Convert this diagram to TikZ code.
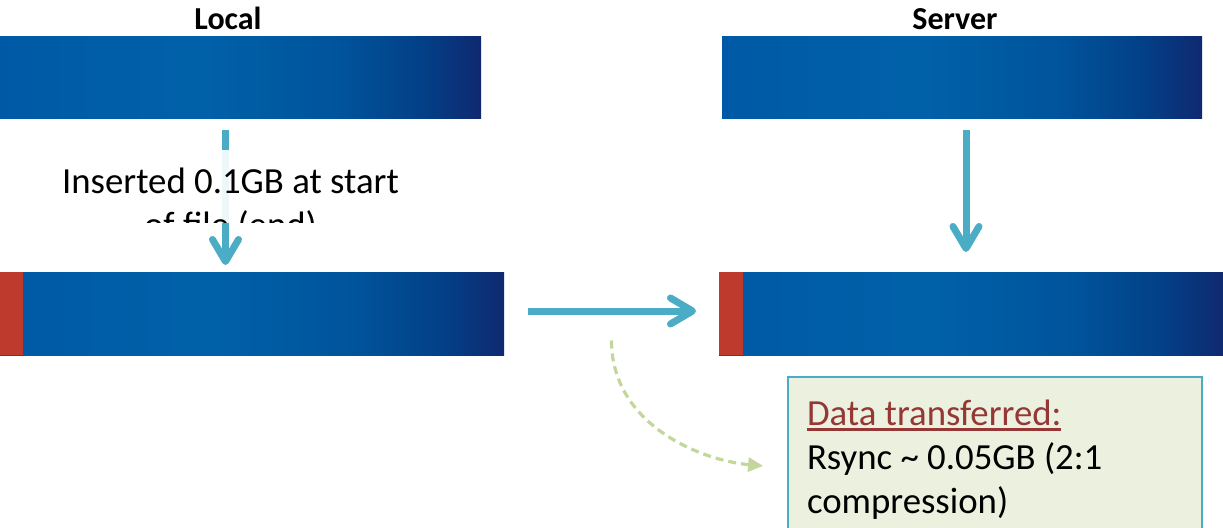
\documentclass[tikz,border=0pt]{standalone}
\usepackage{fontspec}
\setmainfont{Carlito}
\usetikzlibrary{arrows.meta,calc}

\definecolor{flowblue}{RGB}{75,172,198}
\definecolor{newred}{RGB}{190,58,44}
\definecolor{notegreen}{RGB}{235,241,222}
\definecolor{hintgreen}{RGB}{195,214,155}
\definecolor{headred}{RGB}{149,55,53}

% blue file bar, light on the left and dark on the right
\pgfdeclarehorizontalshading{filefade}{100bp}{rgb(0bp)=(0,0.35,0.65); rgb(25bp)=(0,0.35,0.65); rgb(46bp)=(0,0.38,0.66); rgb(60bp)=(0,0.33,0.61); rgb(69bp)=(0.01,0.25,0.53); rgb(75bp)=(0.06,0.16,0.44); rgb(100bp)=(0.06,0.16,0.44)}

% underlined heading of the note
\newsavebox{\headbox}
\newcommand{\notehead}[1]{\textcolor{headred}{\sbox{\headbox}{#1}\rlap{\rule[-2.8pt]{\wd\headbox}{1.5pt}}\usebox{\headbox}}}

\begin{document}
\begin{tikzpicture}[x=0.5pt,y=0.5pt,
    blob/.style={shading=filefade, minimum height=41pt, inner sep=0pt, outer sep=0pt},
    patch/.style={fill=newred, minimum height=41.5pt, inner sep=0pt, outer sep=0pt},
    side/.style={font=\fontsize{16}{19}\selectfont\bfseries},
    flow/.style={draw=flowblue, line width=3.5pt, -{Straight Barb[length=11pt,width=13pt,round]}},
    hint/.style={draw=hintgreen, line width=1.6pt, dash pattern=on 4pt off 2.5pt, -{Triangle[length=7.5pt,width=7pt]}},
    notebox/.style={draw=flowblue, line width=1pt, fill=notegreen, inner xsep=9.5pt, inner ysep=0pt,
      text width=188pt, align=flush left, minimum height=82.5pt, font=\fontsize{18.4}{22}\selectfont}]

    \useasboundingbox (0,0) rectangle (1223,527);
    \clip (0,0) rectangle (1223,527);

    % --------------------------------------------------------- %
    % ------------- sides
    % --------------------------------------------------------- %
    \node[side, anchor=base] (localtitle) at (228,498) {Local};
    \node[side, anchor=base] (servtitle) at (955,498) {Server};

    % --------------------------------------------------------- %
    % ------------- files before the change
    % --------------------------------------------------------- %
    \node[blob, minimum width=240.5pt] (localold) at (240.5,450) {};
    \node[blob, minimum width=240pt] (servold) at (962,450) {};

    % --------------------------------------------------------- %
    % ------------- files after the change
    % --------------------------------------------------------- %
    \node[blob, minimum width=252pt, minimum height=41.5pt] (localnew) at (252,213.5) {};
    \node[patch, minimum width=11.5pt, anchor=west] (localpatch) at (localnew.west) {};
    \node[blob, minimum width=252pt, minimum height=41.5pt] (servnew) at (971,213.5) {};
    \node[patch, minimum width=12pt, anchor=west] (servpatch) at (servnew.west) {};

    % --- local edit
    \coordinate (ldrop) at ([xshift=-7.5pt]localold.south);
    \draw[flow, shorten <=6pt, shorten >=3.5pt] (ldrop) -- (ldrop |- localnew.north);
    \begin{scope}
      \clip (0,305) rectangle (480,377);
      \node[fill=white, fill opacity=0.9, text opacity=1, inner sep=10pt, anchor=north, align=center,
        font=\fontsize{18.4}{22}\selectfont] (insert) at (230.5,379) {Inserted 0.1GB at start\\of file (end)};
    \end{scope}

    % --- server copy
    \coordinate (sdrop) at ([xshift=2pt]servold.south);
    \draw[flow, shorten <=6pt, shorten >=10pt] (sdrop) -- (sdrop |- servnew.north);

    % --- sync
    \draw[flow, shorten <=12pt, shorten >=11.5pt] ([yshift=1.25pt]localnew.east) -- ([yshift=1.25pt]servnew.west);

    % --------------------------------------------------------- %
    % ------------- transfer note
    % --------------------------------------------------------- %
    \node[notebox, anchor=north west] (note) at (787,151) {\notehead{Data transferred:}\\Rsync \textasciitilde{} 0.05GB (2:1\\compression)};
    \coordinate (split) at ($(localnew.east)!0.5!(servnew.west)+(0,-27)$);
    \draw[hint, shorten >=12pt] (split) to[out=-90, in=175] ([yshift=-4.25pt]note.west);

\end{tikzpicture}
\end{document}
